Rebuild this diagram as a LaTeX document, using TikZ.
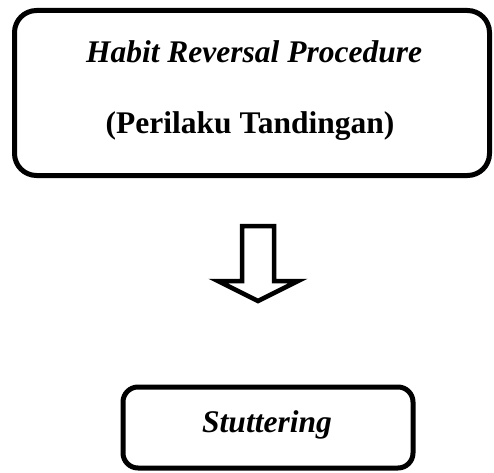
\documentclass[tikz,border=0pt]{standalone}
\usepackage{fontspec}
\setmainfont{Liberation Serif}
\begin{document}
\begin{tikzpicture}[x=1pt,y=1pt,
  roundbox/.style={draw=black,line width=5pt,rounded corners=#1,inner sep=0pt},
  lbl/.style={anchor=base,inner sep=0pt,font=\fontsize{31.5}{38}\selectfont\bfseries},
  blockarrow/.style={draw=black,line width=4.5pt,fill=white,line join=miter}]
\useasboundingbox (0,0) rectangle (494,472);
\node[roundbox=22pt,minimum width=475pt,minimum height=165pt] (top) at (252,379) {};
\node[lbl] (t1) at (254,409) {\itshape Habit Reversal Procedure};
\node[lbl] (t2) at (250,339) {(Perilaku Tandingan)};
\node[roundbox=15pt,minimum width=290pt,minimum height=81pt] (bot) at (268,44.5) {};
\node[lbl] (b1) at (267,40) {\itshape Stuttering};
\draw[blockarrow] (242,246) -- (274,246) -- (274,191) -- (298,191) -- (258,171)
  -- (218,191) -- (242,191) -- cycle;
\end{tikzpicture}
\end{document}
